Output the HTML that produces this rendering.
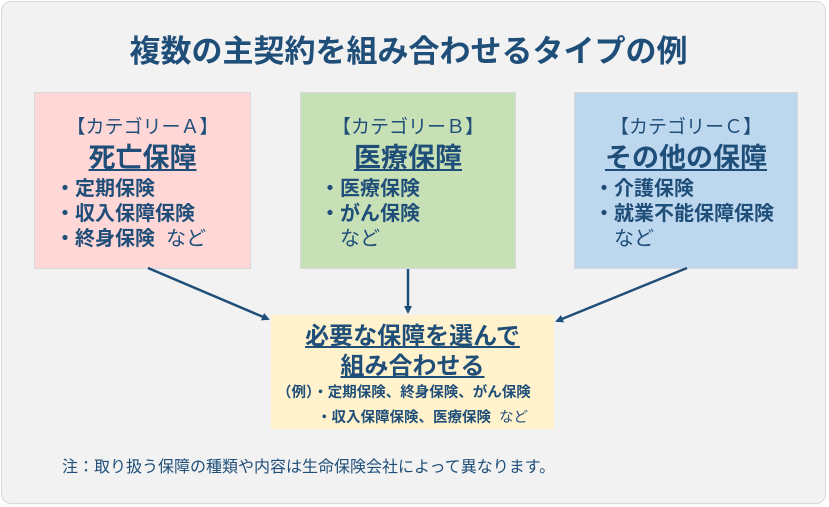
<!DOCTYPE html>
<html><head><meta charset="utf-8"><style>
body{margin:0;width:829px;height:507px;background:#fff;position:relative;overflow:hidden;font-family:"Liberation Sans","Noto Sans CJK JP",sans-serif;color:#1f4e79}
.panel{position:absolute;left:1px;top:1px;width:825px;height:503px;background:#f2f2f2;border:1px solid #d9d9d9;border-radius:10px;box-sizing:border-box}
.t{position:absolute;white-space:nowrap;font-weight:bold}
.box{position:absolute;border:1px solid #d9d9d9;box-sizing:border-box}
.c{text-align:center}
u{text-underline-offset:2px;text-decoration-thickness:1.5px}
</style></head><body>
<div class="panel"></div>
<div class="t" style="left:0;width:817px;text-align:center;top:32px;font-size:31px;line-height:40px">複数の主契約を組み合わせるタイプの例</div>

<div class="box" style="left:34px;top:92px;width:217px;height:177px;background:#ffd7d7"></div>
<div class="box" style="left:300px;top:92px;width:216px;height:177px;background:#c8e0b6"></div>
<div class="box" style="left:574px;top:92px;width:224px;height:177px;background:#bdd7ee"></div>

<div class="t c" style="left:34px;width:217px;top:115px;font-size:19px;line-height:26px;font-weight:normal">【カテゴリーＡ】</div>
<div class="t c" style="left:34px;width:217px;top:140px;font-size:27px;line-height:36px"><u>死亡保障</u></div>
<div class="t" style="left:55px;top:177px;font-size:20px;line-height:25px">・定期保険<br>・収入保障保険<br>・終身保険&nbsp;&nbsp;<span style="font-weight:normal">など</span></div>

<div class="t c" style="left:300px;width:216px;top:115px;font-size:19px;line-height:26px;font-weight:normal">【カテゴリーＢ】</div>
<div class="t c" style="left:300px;width:216px;top:140px;font-size:27px;line-height:36px"><u>医療保障</u></div>
<div class="t" style="left:320px;top:177px;font-size:20px;line-height:25px">・医療保険<br>・がん保険<br><span style="font-weight:normal;margin-left:20px">など</span></div>

<div class="t c" style="left:574px;width:224px;top:115px;font-size:19px;line-height:26px;font-weight:normal">【カテゴリーＣ】</div>
<div class="t c" style="left:574px;width:224px;top:140px;font-size:27px;line-height:36px"><u>その他の保障</u></div>
<div class="t" style="left:594px;top:177px;font-size:20px;line-height:25px">・介護保険<br>・就業不能保障保険<br><span style="font-weight:normal;margin-left:20px">など</span></div>

<div style="position:absolute;left:271px;top:315px;width:283px;height:114px;background:#fff2cc"></div>
<div class="t c" style="left:271px;width:283px;top:322px;font-size:24px;line-height:30px"><u>必要な保障を選んで</u><br><u>組み合わせる</u></div>
<div class="t" style="left:277px;top:381px;font-size:14.5px;line-height:25px">（例）・定期保険、終身保険、がん保険<br><span style="margin-left:40px">・収入保障保険、医療保険&nbsp;&nbsp;<span style="font-weight:normal">など</span></span></div>

<div class="t" style="left:62px;top:457px;font-size:16px;line-height:22px;font-weight:normal">注：取り扱う保障の種類や内容は生命保険会社によって異なります。</div>

<svg width="829" height="507" style="position:absolute;left:0;top:0">
<defs><marker id="a" markerWidth="8" markerHeight="8" refX="6" refY="4" orient="auto" markerUnits="userSpaceOnUse"><path d="M0,0 L8,4 L0,8 z" fill="#1f4e79"/></marker></defs>
<g stroke="#1f4e79" stroke-width="2.5" fill="none">
<line x1="148" y1="268" x2="268" y2="319" marker-end="url(#a)"/>
<line x1="408" y1="269" x2="408" y2="312" marker-end="url(#a)"/>
<line x1="687" y1="268" x2="557" y2="321" marker-end="url(#a)"/>
</g></svg>
</body></html>
